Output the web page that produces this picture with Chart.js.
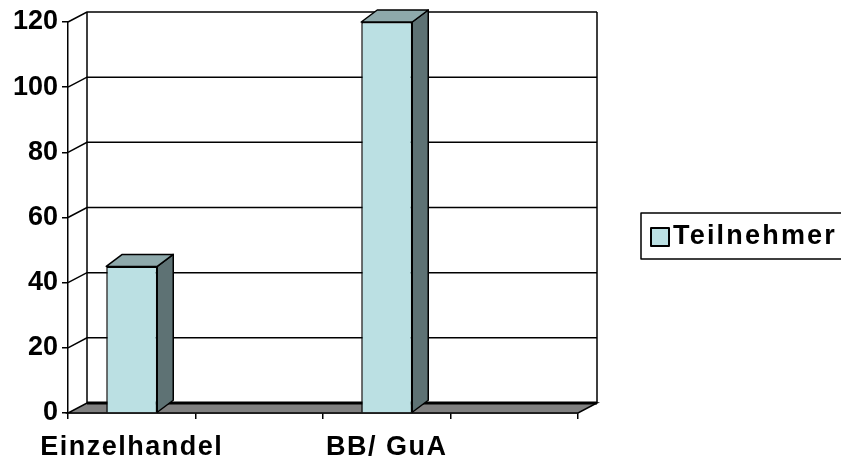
<!DOCTYPE html>
<html>
<head>
<meta charset="utf-8">
<script src="https://cdn.jsdelivr.net/npm/chart.js@4.4.0/dist/chart.umd.min.js"></script>
<style>
  html, body { margin: 0; padding: 0; background: #fff; }
  #wrap { width: 841px; height: 464px; }
</style>
</head>
<body>
<div id="wrap"><canvas id="c" width="841" height="464"></canvas></div>
<script>
var categories = ['Einzelhandel', '', 'BB/ GuA', '']; // every 2nd label hidden like in the excel chart
var teilnehmer = [45, null, 120, null];
var seriesName = 'Teilnehmer';

var FRONT = '#BBE0E3';
var SIDE = '#5E7274';
var TOP = '#8EA9AB';
var FONT = { family: 'Liberation Sans, Arial, sans-serif', size: 27, weight: 'bold' };

// depth of the walls / bars (pseudo 3d)
var DX = 19, DY = -10;
var BDX = 16, BDY = -12;

var excel3d = {
    id: 'excel3d',
    afterLayout: function (chart) {
        // old excel text is a bit wider, spread the category labels
        var sx = chart.scales.x;
        if (sx._wide) return;
        var orig = sx.drawLabels;
        sx.drawLabels = function (area) {
            chart.ctx.save();
            chart.ctx.letterSpacing = '1.5px';
            orig.call(this, area);
            chart.ctx.restore();
        };
        sx._wide = true;
    },
    beforeDatasetsDraw: function (chart) {
        var ctx = chart.ctx;
        var a = chart.chartArea;
        var ys = chart.scales.y;
        ctx.save();
        ctx.strokeStyle = '#000';
        ctx.lineWidth = 1.5;

        // floor
        ctx.beginPath();
        ctx.moveTo(a.left, a.bottom);
        ctx.lineTo(a.right, a.bottom);
        ctx.lineTo(a.right + DX, a.bottom + DY);
        ctx.lineTo(a.left + DX, a.bottom + DY);
        ctx.closePath();
        ctx.fillStyle = '#808080';
        ctx.fill();
        ctx.stroke();
        ctx.lineWidth = 3;
        ctx.beginPath();
        ctx.moveTo(a.left + DX, a.bottom + DY);
        ctx.lineTo(a.right + DX, a.bottom + DY);
        ctx.stroke();
        ctx.lineWidth = 1.5;

        // grid lines on left wall + back wall
        ys.ticks.forEach(function (t) {
            if (t.value === 0) return;
            var yy = ys.getPixelForValue(t.value);
            ctx.beginPath();
            ctx.moveTo(a.left, yy);
            ctx.lineTo(a.left + DX, yy + DY);
            ctx.lineTo(a.right + DX, yy + DY);
            ctx.stroke();
        });

        // back corners
        ctx.beginPath();
        ctx.moveTo(a.left + DX, a.top + DY);
        ctx.lineTo(a.left + DX, a.bottom + DY);
        ctx.moveTo(a.right + DX, a.top + DY);
        ctx.lineTo(a.right + DX, a.bottom + DY);
        ctx.stroke();
        ctx.restore();
    },
    afterDatasetsDraw: function (chart) {
        var ctx = chart.ctx;
        var meta = chart.getDatasetMeta(0);
        ctx.save();
        ctx.strokeStyle = '#000';
        ctx.lineWidth = 1.5;
        ctx.lineJoin = 'round';
        meta.data.forEach(function (bar, i) {
            if (teilnehmer[i] == null) return;
            var p = bar.getProps(['x', 'y', 'base', 'width'], true);
            var l = p.x - p.width / 2, r = p.x + p.width / 2;
            // side
            ctx.beginPath();
            ctx.moveTo(r, p.y);
            ctx.lineTo(r + BDX, p.y + BDY);
            ctx.lineTo(r + BDX, p.base + BDY);
            ctx.lineTo(r, p.base);
            ctx.closePath();
            ctx.fillStyle = SIDE;
            ctx.fill();
            ctx.stroke();
            // top
            ctx.beginPath();
            ctx.moveTo(l, p.y);
            ctx.lineTo(r, p.y);
            ctx.lineTo(r + BDX, p.y + BDY);
            ctx.lineTo(l + BDX, p.y + BDY);
            ctx.closePath();
            ctx.fillStyle = TOP;
            ctx.fill();
            ctx.stroke();
        });

        // legend (box runs off the right edge like the original)
        var lx = 641, ly = 213, lh = 46;
        ctx.lineWidth = 1.5;
        ctx.strokeRect(lx, ly, 260, lh);
        ctx.fillStyle = FRONT;
        ctx.fillRect(651, 228, 18, 18);
        ctx.lineWidth = 2;
        ctx.strokeRect(651, 228, 18, 18);
        ctx.fillStyle = '#000';
        ctx.font = 'bold 27px Liberation Sans, Arial, sans-serif';
        ctx.letterSpacing = '2.2px';
        ctx.textBaseline = 'middle';
        ctx.fillText(chart.data.datasets[0].label, 673, 237);
        ctx.restore();
    }
};

new Chart(document.getElementById('c'), {
    type: 'bar',
    data: {
        labels: categories,
        datasets: [{
            label: seriesName,
            data: teilnehmer,
            backgroundColor: FRONT,
            borderColor: '#000',
            borderWidth: 1.5,
            categoryPercentage: 1,
            barPercentage: 0.4
        }]
    },
    options: {
        responsive: false,
        animation: false,
        events: [],
        layout: { padding: { left: 0, top: 22, right: 263, bottom: 0 } },
        plugins: {
            legend: { display: false },
            tooltip: { enabled: false }
        },
        scales: {
            x: {
                offset: true,
                grid: { offset: true, drawOnChartArea: false, drawTicks: true, tickLength: 6, color: '#000', lineWidth: 1.5 },
                border: { display: true, color: '#000', width: 1.5 },
                ticks: { color: '#000', font: FONT, maxRotation: 0, autoSkip: false, padding: 12 },
                afterFit: function (s) { s.height = 51; }
            },
            y: {
                min: 0,
                max: 120,
                ticks: { stepSize: 20, color: '#000', font: FONT, padding: 4 },
                grid: { drawOnChartArea: false, drawTicks: true, tickLength: 6, color: '#000', lineWidth: 1.5 },
                border: { display: true, color: '#000', width: 1.5 },
                afterFit: function (s) { s.width = 68; }
            }
        }
    },
    plugins: [excel3d]
});
</script>
</body>
</html>
